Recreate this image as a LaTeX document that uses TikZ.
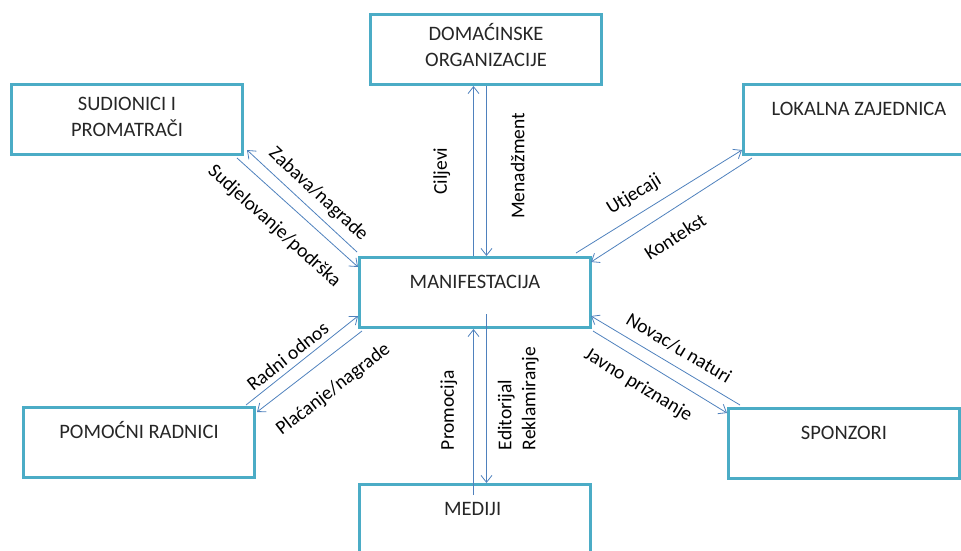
\documentclass[tikz,border=0pt]{standalone}
\usepackage{fontspec}
\setmainfont{Carlito}
\usetikzlibrary{arrows.meta}
\definecolor{okvir}{RGB}{75,172,198}
\definecolor{strelica}{RGB}{79,129,189}

\begin{document}
\begin{tikzpicture}[x=1pt,y=-1pt,>={Straight Barb[length=7pt,width=11pt]},
	okvir/.style={draw=okvir,line width=3pt,inner sep=0pt,minimum width=231pt,anchor=north west,align=center,text=black!85,font=\fontsize{20.5}{26}\selectfont},
	str/.style={draw=strelica,line width=0.8pt},
	opis/.style={sloped,inner sep=0pt,font=\fontsize{19.5}{24}\selectfont}]
		\useasboundingbox (0,0) rectangle (961,550);
		\clip (0,0) rectangle (961,550);
		\begin{scope}[overlay]
		\foreach \n/\x/\y/\h/\d/\t in
		{
			dom/369/13/52/18/{DOMAĆINSKE\\ORGANIZACIJE}, sud/10/83/52/18/{SUDIONICI I\\PROMATRAČI},
			lok/742/83/31/39/{LOKALNA ZAJEDNICA}, man/358/256/31/39/{MANIFESTACIJA},
			pom/22/406/31/39/{POMOĆNI RADNICI}, spo/727/407/31/39/{SPONZORI},
			med/358/483/31/39/{MEDIJI}
		}
		{
			\node[okvir,text height=\h pt,text depth=\d pt] (\n) at (\x,\y) {\t};
		}
		\draw[str,->] ([xshift=-1.5pt]man.north) -- ([xshift=-1.5pt]man.north |- dom.south)
			node[opis,pos=0.5,above=23pt] {Ciljevi};
		\draw[str,<-] ([xshift=11.5pt]man.north) -- ([xshift=0.5pt]dom.south)
			node[opis,pos=0.53,below=24pt] {Menadžment};
		\draw[str,<-] ([shift={(3,-6)}]sud.south east) -- ([shift={(-1,-4)}]man.north west)
			node[opis,pos=0.55,above=7pt] {Zabava/nagrade};
		\draw[str,->] ([shift={(-7,2)}]sud.south east) -- ([shift={(0,11)}]man.north west)
			node[opis,pos=0.45,below=17pt] {Sudjelovanje/podrška};
		\draw[str,->] ([shift={(-16,-3)}]man.north east) -- ([shift={(0,-6)}]lok.south west)
			node[opis,pos=0.41,above=10pt] {Utjecaji};
		\draw[str,<-] ([shift={(-1,6)}]man.north east) -- ([shift={(10,2)}]lok.south west)
			node[opis,pos=0.44,below=17pt] {Kontekst};
		\draw[str,->] ([shift={(-10,-1)}]pom.north east) -- ([shift={(0,-13)}]man.south west)
			node[opis,pos=0.44,above=5pt] {Radni odnos};
		\draw[str,<-] ([shift={(1,6)}]pom.north east) -- ([shift={(4,2)}]man.south west)
			node[opis,pos=0.56,below=20pt] {Plaćanje/nagrade};
		\draw[str,<-] ([shift={(-1,-13)}]man.south east) -- ([shift={(13,-2)}]spo.north west)
			node[opis,pos=0.53,above=10pt] {Novac/u naturi};
		\draw[str,->] ([shift={(1,2)}]man.south east) -- ([shift={(0,6)}]spo.north west)
			node[opis,pos=0.425,below=14pt] {Javno priznanje};
		\draw[str,->] ([shift={(-1.5,12)}]med.north) -- ([xshift=-1.5pt]man.south)
			node[opis,pos=0.51,above=16pt] {Promocija};
		\draw[str,<-] ([xshift=11.5pt]med.north) -- ([shift={(11.5,-15)}]man.south)
			node[opis,pos=0.5,below=11pt,align=left] {Editorijal\\Reklamiranje};
		\end{scope}
\end{tikzpicture}
\end{document}
